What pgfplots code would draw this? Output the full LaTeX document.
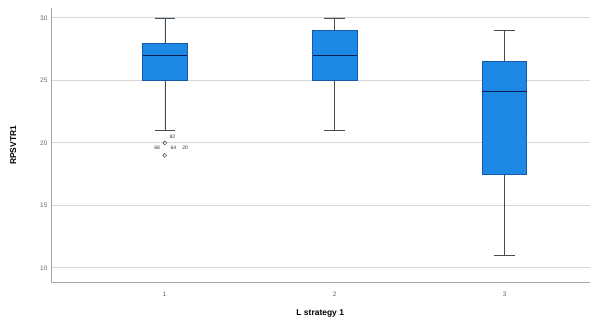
\documentclass[border=0pt]{standalone}
\usepackage{pgfplots}
\pgfplotsset{compat=1.18}
\usepgfplotslibrary{statistics}
\usepackage{fontspec}
\setmainfont{Liberation Sans}
\definecolor{boxblue}{RGB}{30,136,229}
\definecolor{boxedge}{RGB}{20,90,170}
\definecolor{medblue}{RGB}{10,30,90}
\definecolor{gridc}{RGB}{215,215,215}
\begin{document}
\begin{tikzpicture}
\begin{axis}[
  scale only axis,
  width=539bp, height=275bp,
  xmin=0.33, xmax=3.5,
  ymin=8.8, ymax=30.8,
  axis lines*=left,
  axis line style={draw=gray!70, line width=0.6pt},
  xtick={1,2,3}, xticklabels={1,2,3},
  ytick={10,15,20,25,30},
  ymajorgrids, grid style={gridc, line width=1pt},
  tick style={draw=none},
  tick label style={font=\fontsize{6.5}{7}\selectfont, text=gray!80!black},
  xticklabel style={yshift=-6bp},
  /pgf/number format/assume math mode=true,
  ylabel={\textbf{RPSVTR1}},
  xlabel={\textbf{L strategy 1}},
  label style={font=\fontsize{8.5}{10}\selectfont},
  ylabel style={at={(axis description cs:-0.058,0.5)}},
  xlabel style={at={(axis description cs:0.5,-0.085)}},
  boxplot/draw direction=y,
  boxplot/box extend=0.26,
  boxplot/whisker extend=0.12,
]
\addplot+[boxplot prepared={median=27, lower quartile=25, upper quartile=28, lower whisker=21, upper whisker=30},
  fill=boxblue, draw=boxedge, solid, line width=0.5pt, mark=none,
  boxplot/every whisker/.style={draw=gray!60!black},
  boxplot/every median/.style={draw=medblue, line width=1.2pt}]
  coordinates {};
\addplot+[boxplot prepared={median=27, lower quartile=25, upper quartile=29, lower whisker=21, upper whisker=30},
  fill=boxblue, draw=boxedge, solid, line width=0.5pt, mark=none,
  boxplot/every whisker/.style={draw=gray!60!black},
  boxplot/every median/.style={draw=medblue, line width=1.2pt}]
  coordinates {};
\addplot+[boxplot prepared={median=24.1, lower quartile=17.5, upper quartile=26.5, lower whisker=11, upper whisker=29},
  fill=boxblue, draw=boxedge, solid, line width=0.5pt, mark=none,
  boxplot/every whisker/.style={draw=gray!60!black},
  boxplot/every median/.style={draw=medblue, line width=1.2pt}]
  coordinates {};
% outliers
\addplot[only marks, mark=o, mark size=1.9pt, draw=gray!40!black]
  coordinates {(1,20) (1,19)};
% outlier labels
\addplot[only marks, mark=none,
  nodes near coords, point meta=explicit symbolic,
  nodes near coords style={font=\fontsize{5}{5}\selectfont, text=gray!40!black, anchor=center}]
  coordinates {(1.045,20.5)[82] (0.955,19.6)[68] (1.05,19.6)[64] (1.12,19.6)[20]};
\end{axis}
\path (current axis.south west) ++(-51bp,-42bp) coordinate (bbsw);
\path (current axis.north east) ++(0bp,8bp) coordinate (bbne);
\path (bbsw) rectangle (bbne);
\end{tikzpicture}
\end{document}
